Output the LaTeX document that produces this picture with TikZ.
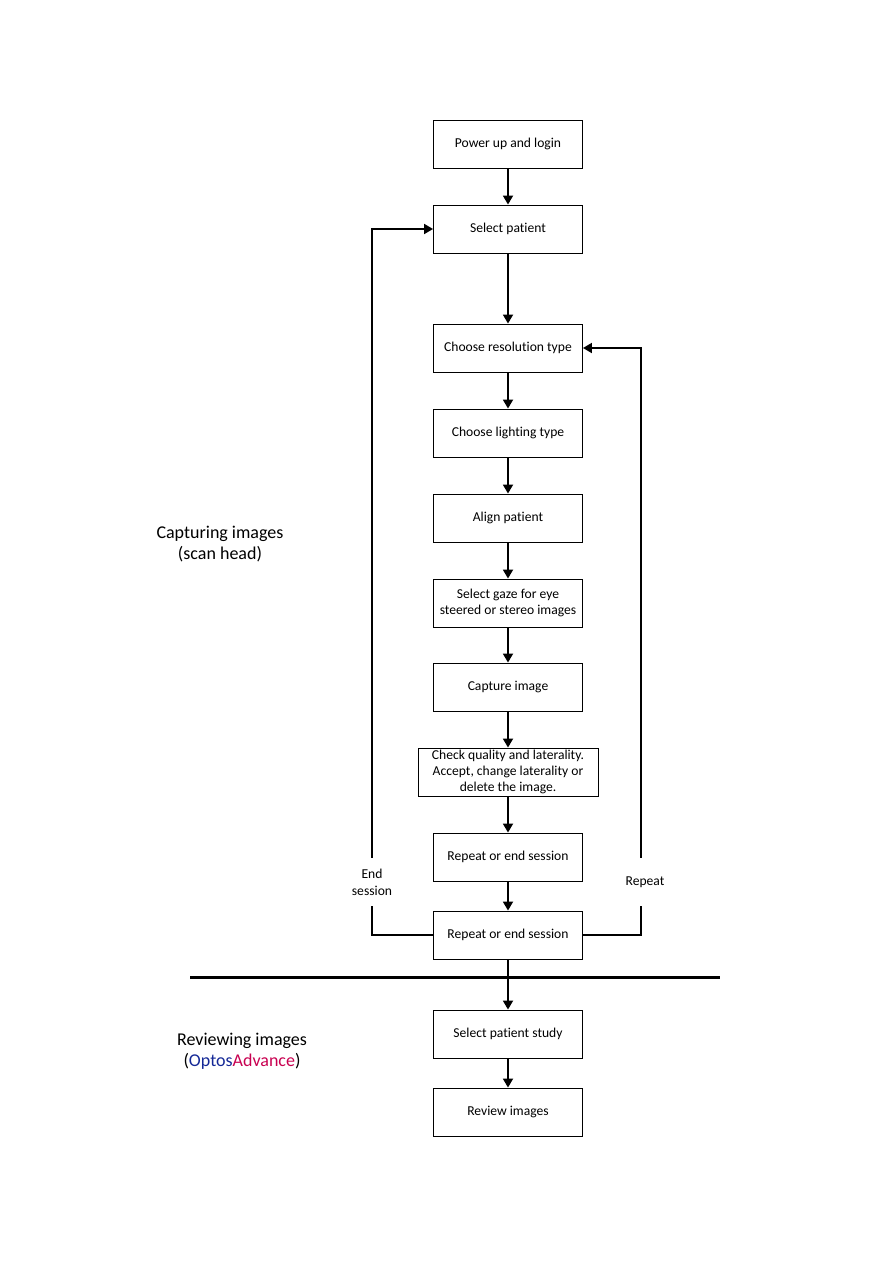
\documentclass[tikz,border=0pt]{standalone}
\usepackage{fontspec}
\setmainfont{Carlito}[Ligatures={NoCommon}]
\usetikzlibrary{arrows.meta}
\definecolor{optosblue}{RGB}{20,40,150}
\definecolor{optosred}{RGB}{200,0,80}
\begin{document}
\begin{tikzpicture}[x=1pt,y=-1pt,
  box/.style={draw, line width=0.9pt, minimum width=149pt, minimum height=48pt, align=center, inner sep=2pt, font=\fontsize{13.6}{16}\selectfont},
  arr/.style={line width=1.8pt, -{Triangle[length=9pt,width=10pt]}},
  lbl/.style={fill=white, align=center, inner sep=3pt, minimum height=48pt, font=\fontsize{13.6}{17}\selectfont},
  sect/.style={align=center, font=\fontsize{18}{21}\selectfont}]
\useasboundingbox (0,0) rectangle (893,1263);
\node[box] (b1) at (508,144) {Power up and login};
\node[box] (b2) at (508,229) {Select patient};
\node[box] (b3) at (508,348) {Choose resolution type};
\node[box] (b4) at (508,433) {Choose lighting type};
\node[box] (b5) at (508,518) {Align patient};
\node[box] (b6) at (508,603) {Select gaze for eye\\steered or stereo images};
\node[box] (b7) at (508,687) {Capture image};
\node[box, minimum width=180pt] (b8) at (508,772) {Check quality and laterality.\\Accept, change laterality or\\delete the image.};
\node[box] (b9) at (508,857) {Repeat or end session};
\node[box] (b10) at (508,935) {Repeat or end session};
\node[box] (b11) at (508,1034) {Select patient study};
\node[box] (b12) at (508,1112) {Review images};
\draw[arr] (b1) -- (b2);
\draw[arr] (b2) -- (b3);
\draw[arr] (b3) -- (b4);
\draw[arr] (b4) -- (b5);
\draw[arr] (b5) -- (b6);
\draw[arr] (b6) -- (b7);
\draw[arr] (b7) -- (b8);
\draw[arr] (b8) -- (b9);
\draw[arr] (b9) -- (b10);
\draw[arr] (b10) -- (b11);
\draw[arr] (b11) -- (b12);
\coordinate (sl) at (190,977);
\coordinate (sr) at (720,977);
\draw[line width=3pt] (sl) -- (sr);
\coordinate (lc) at (372,229);
\coordinate (rc) at (641,348);
\draw[arr] (b10.west) -| (lc) -- (b2.west);
\draw[arr] (b10.east) -| (rc) -- (b3.east);
\node[lbl] (le) at (372,882) {End\\session};
\node[lbl] (lr) at (645,882) {Repeat};
\node[sect] (s1) at (220,544) {Capturing images\\(scan head)};
\node[sect] (s2) at (242,1051) {Reviewing images\\(\textcolor{optosblue}{Optos}\textcolor{optosred}{Advance})};
\end{tikzpicture}
\end{document}
